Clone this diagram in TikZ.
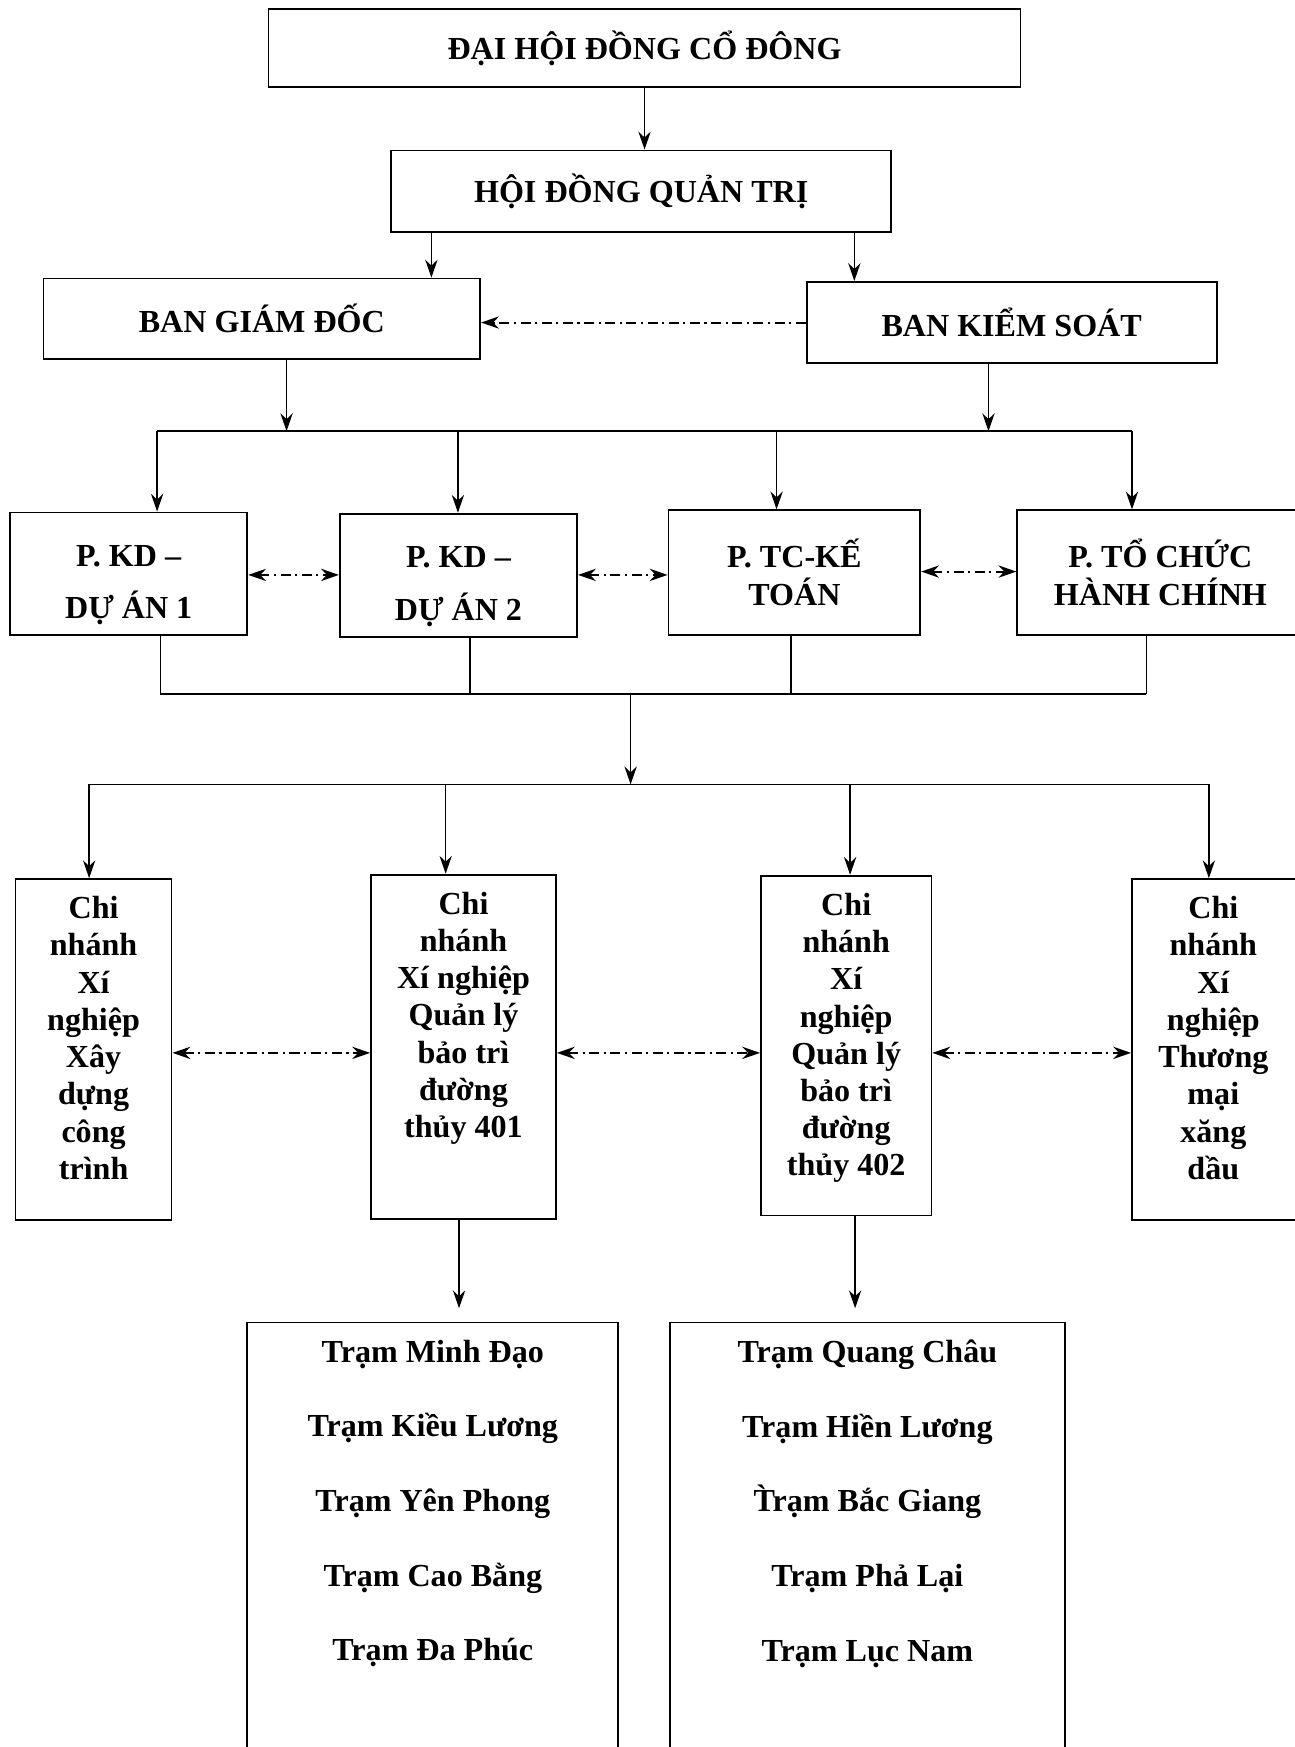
\documentclass[tikz,border=0pt]{standalone}
\usepackage{fontspec}
\setmainfont{Liberation Serif}
\usetikzlibrary{positioning, arrows.meta, calc}
\tikzset{
    unit/.style={ % every box of the chart
        draw,
        line width=0.8pt,
        inner sep=0pt,
        align=center,
        font=\bfseries\fontsize{14.4}{17}\selectfont
    },
    caption/.style={ % text set inside a box drawn on its own
        inner sep=0pt,
        align=center,
        font=\bfseries\fontsize{14.4}{16.7}\selectfont
    },
    link/.style={->, line width=0.7pt},
    dashdot/.style={dash pattern=on 4.5pt off 2pt on 1pt off 2pt},
    peer/.style={<->, line width=0.9pt, dashdot},
    >={Stealth[length=8pt,width=5.5pt]}
}
\begin{document}
\begin{tikzpicture}[x=0.5pt, y=-0.5pt]
    \useasboundingbox (0,0) rectangle (1162,1568);
    \fill[white] (0,0) rectangle (1162,1568);

    % top of the chart
    \node[unit, minimum width=337.5pt, minimum height=35pt]   (dhdcd) at (578.5,43)   {ĐẠI HỘI ĐỒNG CỔ ĐÔNG};
    \node[unit, minimum width=224.5pt, minimum height=36.5pt] (hdqt)  at (575.5,171.5) {HỘI ĐỒNG QUẢN TRỊ};
    \node[unit, minimum width=196pt, minimum height=36pt]     (bgd)   at (235,286)    {BAN GIÁM ĐỐC};
    \node[unit, minimum width=184pt, minimum height=36.5pt]   (bks)   at (908,289.5)  {BAN KIỂM SOÁT};

    % departments
    \node[unit, minimum width=106.5pt, minimum height=55pt]   (kd1)   at (115.5,515)  {};
    \node[unit, minimum width=106.5pt, minimum height=55.5pt] (kd2)   at (411.5,516.5) {};
    \node[unit, minimum width=113pt, minimum height=56pt]     (tckt)  at (713,514)    {P. TC-KẾ\\TOÁN};
    \node[unit, minimum width=128.5pt, minimum height=56pt]   (tchc)  at (1041.5,514) {P. TỔ CHỨC\\HÀNH CHÍNH};
    \node[caption, font=\bfseries\fontsize{14.4}{23.5}\selectfont, yshift=-5pt] (kd1t) at (kd1) {P. KD –\\DỰ ÁN 1};
    \node[caption, font=\bfseries\fontsize{14.4}{23.5}\selectfont, yshift=-5pt] (kd2t) at (kd2) {P. KD –\\DỰ ÁN 2};

    % branches
    \node[unit, minimum width=70pt, minimum height=153pt]     (cn1)   at (84,942)     {};
    \node[unit, minimum width=83pt, minimum height=154.5pt]   (cn401) at (416,939.5)  {};
    \node[unit, minimum width=76.5pt, minimum height=152.5pt] (cn402) at (759.5,938.5) {};
    \node[unit, minimum width=77pt, minimum height=153pt]     (cnxd)  at (1093,942)   {};
    \node[caption, below=8pt of cn1.north]   (cn1t)   {Chi\\nhánh\\Xí\\nghiệp\\Xây\\dựng\\công\\trình};
    \node[caption, below=8pt of cn401.north] (cn401t) {Chi\\nhánh\\Xí nghiệp\\Quản lý\\bảo trì\\đường\\thủy 401};
    \node[caption, below=8pt of cn402.north] (cn402t) {Chi\\nhánh\\Xí\\nghiệp\\Quản lý\\bảo trì\\đường\\thủy 402};
    \node[caption, below=8pt of cnxd.north, xshift=-2pt] (cnxdt) {Chi\\nhánh\\Xí\\nghiệp\\Thương\\mại\\xăng\\dầu};

    % stations
    \node[unit, minimum width=166.5pt, minimum height=196.5pt] (tram1) at (388.5,1383.5) {};
    \node[unit, minimum width=177.5pt, minimum height=196.5pt] (tram2) at (778.5,1383.5) {};
    \node[caption, below=8pt of tram1.north, font=\bfseries\fontsize{14.4}{33.5}\selectfont] (tram1t)
        {Trạm Minh Đạo\\Trạm Kiều Lương\\Trạm Yên Phong\\Trạm Cao Bằng\\Trạm Đa Phúc};
    \node[caption, below=8pt of tram2.north, font=\bfseries\fontsize{14.4}{33.5}\selectfont] (tram2t)
        {Trạm Quang Châu\\Trạm Hiền Lương\\T̀rạm Bắc Giang\\Trạm Phả Lại\\Trạm Lục Nam};

    % upper links
    \draw[link] (dhdcd.south) -- (dhdcd.south |- hdqt.north);
    \coordinate (q1) at ($(hdqt.south west)+(37,0)$);
    \coordinate (q2) at ($(hdqt.south east)+(-34,0)$);
    \draw[link] (q1) -- (q1 |- bgd.north);
    \draw[link] (q2) -- (q2 |- bks.north);
    \draw[link, line width=0.9pt, dashdot] (bks.west) -- (bks.west -| bgd.east);

    % first bus
    \coordinate (busL) at (141,387);
    \coordinate (busR) at (1016,387);
    \coordinate (g1) at ($(bgd.south west)+(219,0)$);
    \coordinate (s1) at ($(bks.south west)+(164,0)$);
    \draw[link] (g1) -- (g1 |- busL);
    \draw[link] (s1) -- (s1 |- busL);
    \draw[line width=0.7pt] (busL) -- (busR);
    \foreach \n/\x in {kd1/141, kd2/411, tckt/697, tchc/1016} {
        \coordinate (t) at (\x,387);
        \draw[link] (t) -- (t |- \n.north);
    }
    \coordinate (m1) at (0,516);
    \coordinate (m2) at (0,513);
    \draw[peer] (kd1.east |- m1) -- (kd2.west |- m1);
    \draw[peer] (kd2.east |- m1) -- (tckt.west |- m1);
    \draw[peer] (tckt.east |- m2) -- (tchc.west |- m2);

    % second bus
    \coordinate (jL) at (144,623);
    \coordinate (jR) at (1029,623);
    \foreach \n/\x in {kd1/144, kd2/422, tckt/710, tchc/1029} {
        \coordinate (t) at (\x,623);
        \draw[line width=0.7pt] (t |- \n.south) -- (t);
    }
    \draw[line width=0.7pt] (jL) -- (jR);
    \coordinate (j0) at (566,623);
    \coordinate (cL) at (80,704);
    \coordinate (cR) at (1085,704);
    \draw[link] (j0) -- (j0 |- cL);
    \draw[line width=0.7pt] (cL) -- (cR);
    \foreach \n/\x in {cn1/80, cn401/400, cn402/763, cnxd/1085} {
        \coordinate (t) at (\x,704);
        \draw[link] (t) -- (t |- \n.north);
    }
    \coordinate (m3) at (0,945);
    \draw[peer] (cn1.east |- m3) -- (cn401.west |- m3);
    \draw[peer] (cn401.east |- m3) -- (cn402.west |- m3);
    \draw[peer] (cn402.east |- m3) -- (cnxd.west |- m3);

    % to the stations
    \draw[link, shorten >=6pt] ([xshift=-2pt]cn401.south) -- ([xshift=-2pt]cn401.south |- tram1.north);
    \draw[link, shorten >=6pt] ([xshift=4pt]cn402.south) -- ([xshift=4pt]cn402.south |- tram2.north);
\end{tikzpicture}
\end{document}
